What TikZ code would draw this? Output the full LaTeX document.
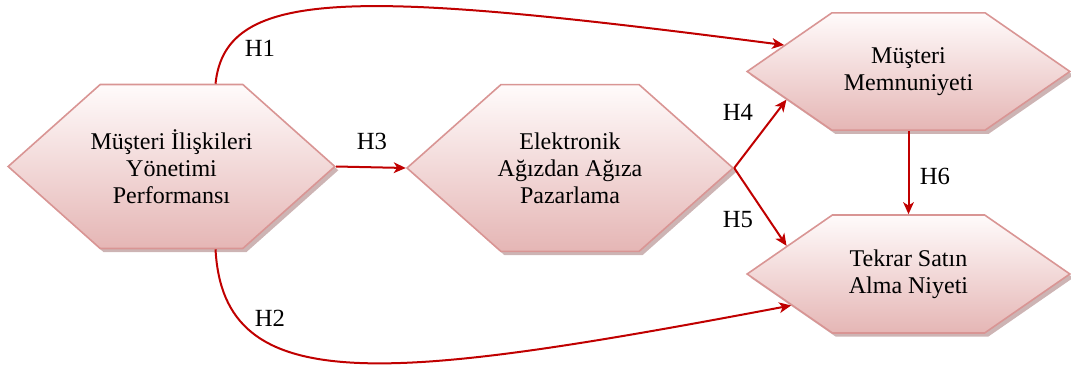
\documentclass[tikz,border=0pt]{standalone}
\usepackage{fontspec}
\setmainfont{Liberation Serif}
\definecolor{hexline}{RGB}{217,149,148}
\definecolor{hextop}{RGB}{255,251,251}
\definecolor{hexbot}{RGB}{229,182,181}
\definecolor{hexshadow}{RGB}{178,140,140}
\definecolor{arrowred}{RGB}{192,0,0}
\usetikzlibrary{arrows.meta,shapes.symbols,shadows}

\tikzset{
  hexbox/.style={shape=signal, signal to=east and west, draw=hexline, line width=1.2pt,
    top color=hextop, bottom color=hexbot, inner xsep=-14pt, inner ysep=0pt, align=center,
    font=\fontsize{18}{20.2}\selectfont,
    drop shadow={shadow xshift=2.6pt, shadow yshift=-2.8pt, fill=hexshadow, opacity=0.65}},
  hyparrow/.style={draw=arrowred, line width=1.5pt, -{Stealth[length=9pt,width=8pt,inset=2.5pt]}},
  hlabel/.style={font=\fontsize{18.5}{22}\selectfont, inner sep=0pt}
}

\begin{document}
\begin{tikzpicture}[x=0.75pt, y=-0.75pt]
  \useasboundingbox (0,0) rectangle (1071,370);
  % constructs
  \node[hexbox, signal pointer angle=83.4, minimum width=245pt, minimum height=123pt] (miy) at (171.5,166.5) {Müşteri İlişkileri\\Yönetimi\\Performansı};
  \node[hexbox, signal pointer angle=83.2, minimum width=244.5pt, minimum height=125pt] (ewom) at (570,168) {Elektronik\\Ağızdan Ağıza\\Pazarlama};
  \node[hexbox, signal pointer angle=69.4, minimum width=242pt, minimum height=88pt] (mm) at (908.5,71.5) {Müşteri\\Memnuniyeti};
  \node[hexbox, signal pointer angle=69.4, minimum width=242pt, minimum height=88.5pt] (tsan) at (908.5,274) {Tekrar Satın\\Alma Niyeti};

  % hypotheses
  \draw[hyparrow] (miy.62) .. controls +(10,-98) and +(-425,-55) .. (mm.168);
  \draw[hyparrow] (miy.-62) .. controls +(8,150) and +(-407,77) .. (tsan.195);
  \draw[hyparrow] (miy.east) -- (ewom.west);
  \draw[hyparrow] (ewom.east) -- (mm.193);
  \draw[hyparrow] (ewom.east) -- (tsan.167);
  \draw[hyparrow] (mm.south) -- (tsan.north);

  \node[hlabel] (lh1) at (260,48) {H1};
  \node[hlabel] (lh2) at (270,318) {H2};
  \node[hlabel] (lh3) at (372,141) {H3};
  \node[hlabel] (lh4) at (738,112) {H4};
  \node[hlabel] (lh5) at (738,220) {H5};
  \node[hlabel] (lh6) at (935,176) {H6};
\end{tikzpicture}
\end{document}
